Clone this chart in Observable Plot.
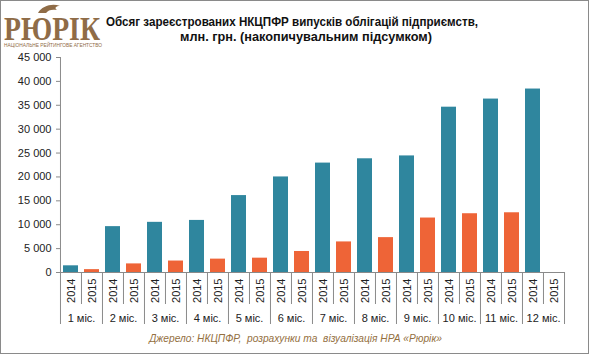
<!DOCTYPE html>
<html>
<head>
<meta charset="utf-8">
<script src="https://cdn.jsdelivr.net/npm/d3@7"></script>
<script src="https://cdn.jsdelivr.net/npm/@observablehq/plot@0.6"></script>
<style>
  html, body { margin: 0; padding: 0; background: #fff; }
  #wrap { position: relative; width: 591px; height: 355px; overflow: hidden; font-family: "Liberation Sans", Arial, sans-serif; }
  #border { position: absolute; left: 0; top: 0; width: 587px; height: 352px; border: 1px solid #8a8a8a; box-sizing: content-box; pointer-events: none; }
  #header { position: absolute; left: 0; top: 0; }
  #chart { position: absolute; left: 0; top: 45px; }
  #caption { position: absolute; left: 0; width: 591px; top: 333px; text-align: center; font-style: italic; font-size: 10.2px; color: #94703f; white-space: pre; }
</style>
</head>
<body>
<div id="wrap">
  <svg id="header" width="591" height="50">
    <path d="M38,13 C42,6 52,3 60,6 C56,6 54,8 57,10 C52,9 48,10 46,13 Z" fill="#8f6c47"/>
    <text x="4" y="40" font-family="Liberation Serif, serif" font-weight="bold" font-size="34" fill="#8f6c47" textLength="96" lengthAdjust="spacingAndGlyphs">РЮРІК</text>
    <text x="4" y="47" font-family="Liberation Sans, sans-serif" font-size="5" fill="#8f6c47" textLength="98" lengthAdjust="spacingAndGlyphs">НАЦІОНАЛЬНЕ РЕЙТИНГОВЕ АГЕНТСТВО</text>
    <text x="106" y="26" font-family="Liberation Sans, Arial, sans-serif" font-weight="bold" font-size="13" fill="#111" textLength="372" lengthAdjust="spacingAndGlyphs">Обсяг зареєстрованих НКЦПФР випусків облігацій підприємств,</text>
    <text x="180" y="41" font-family="Liberation Sans, Arial, sans-serif" font-weight="bold" font-size="13" fill="#111" textLength="252" lengthAdjust="spacingAndGlyphs">млн. грн. (накопичувальним підсумком)</text>
  </svg>
  <div id="chart"></div>
  <div id="caption">Джерело: НКЦПФР,  розрахунки та  візуалізація НРА «Рюрік»</div>
  <div id="border"></div>
</div>
<script>
const months = ["1 міс.", "2 міс.", "3 міс.", "4 міс.", "5 міс.", "6 міс.", "7 міс.", "8 міс.", "9 міс.", "10 міс.", "11 міс.", "12 міс."];
const years = ["2014", "2015"];
const values2014 = [1400, 9600, 10500, 10900, 16100, 20000, 22900, 23800, 24400, 34600, 36300, 38400];
const values2015 = [600, 1800, 2400, 2800, 3000, 4400, 6400, 7300, 11400, 12300, 12500, null];
const yTicks = [0, 5000, 10000, 15000, 20000, 25000, 30000, 35000, 40000, 45000];
const colors = {"2014": "#2f869e", "2015": "#ee6437"};

const rows = [];
months.forEach((m, i) => {
  rows.push({month: m, year: years[0], key: m + "|" + years[0], value: values2014[i]});
  rows.push({month: m, year: years[1], key: m + "|" + years[1], value: values2015[i]});
});
const keys = rows.map(d => d.key);
const bars = rows.filter(d => d.value != null);
const firsts = rows.filter(d => d.year === years[0]);
const lasts = rows.filter(d => d.year === years[1]);

const W = 591, H = 285, ML = 60, MR = 26, MT = 12, MB = 58;
const PW = W - ML - MR;
const step = PW / keys.length;
const fmt = v => d3.format(",")(v).replace(/,/g, " ");
const font = "Liberation Sans, Arial, sans-serif";
const axisColor = "#8a8a8a";

const plot = Plot.plot({
  width: W,
  height: H,
  marginLeft: ML,
  marginRight: MR,
  marginTop: MT,
  marginBottom: MB,
  style: {fontFamily: font, fontSize: "11px", color: "#222", background: "transparent"},
  x: {domain: keys, paddingInner: 0.28, paddingOuter: 0.14, axis: null},
  y: {domain: [0, 45000], axis: null},
  marks: [
    Plot.barY(bars, {x: "key", y: "value", fill: d => colors[d.year]}),
    // y axis line
    Plot.ruleX(keys.slice(0, 1), {x: d => d, dx: -step / 2, y1: 0, y2: 45000, stroke: axisColor}),
    // y ticks
    Plot.ruleY(yTicks, {y: d => d, insetLeft: -4, insetRight: PW, stroke: axisColor}),
    Plot.text(yTicks, {y: d => d, text: fmt, frameAnchor: "left", textAnchor: "end", dx: -9, fill: "#222", fontSize: 11}),
    // x axis baseline
    Plot.ruleY([0], {stroke: axisColor}),
    // year labels
    Plot.text(rows, {x: "key", y: 0, text: "year", rotate: -90, textAnchor: "end", dy: 6, fill: "#222", fontSize: 11}),
    // separators within months
    Plot.ruleX(lasts, {x: "key", y1: 0, y2: 0, dx: -step / 2, insetBottom: -32, stroke: axisColor}),
    // separators between months
    Plot.ruleX(firsts, {x: "key", y1: 0, y2: 0, dx: -step / 2, insetBottom: -52, stroke: axisColor}),
    Plot.ruleX(lasts.slice(-1), {x: "key", y1: 0, y2: 0, dx: step / 2, insetBottom: -52, stroke: axisColor}),
    // month labels
    Plot.text(firsts, {x: "key", y: 0, text: "month", dx: step / 2, dy: 46, fill: "#222", fontSize: 11})
  ]
});
document.getElementById("chart").appendChild(plot);
</script>
</body>
</html>
